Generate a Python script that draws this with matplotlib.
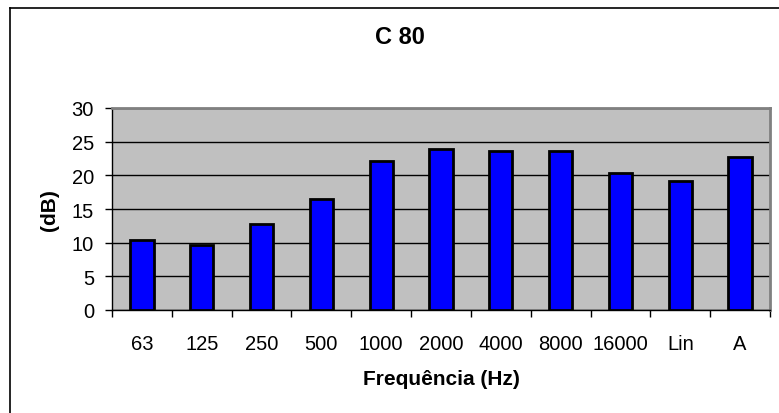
import numpy as np
import matplotlib
matplotlib.use("Agg")
import matplotlib.pyplot as plt
from matplotlib.lines import Line2D

plt.rcParams['font.family'] = ['Liberation Sans', 'DejaVu Sans']

categories = ['63', '125', '250', '500', '1000', '2000', '4000', '8000', '16000', 'Lin', 'A']
values = [10.4, 9.6, 12.7, 16.5, 22.2, 23.9, 23.6, 23.6, 20.4, 19.2, 22.7]

W, H = 779, 414
fig = plt.figure(figsize=(W / 100, H / 100), dpi=100)
ax = fig.add_axes([112 / W, 1 - 311 / H, (770 - 112) / W, (311 - 109) / H])

x = np.arange(len(categories))
ax.set_facecolor('#C0C0C0')
ax.set_axisbelow(True)
ax.grid(axis='y', color='black', linewidth=1.0)
ax.bar(x, values, width=0.39, color='#0000FF', edgecolor='black', linewidth=2.0, zorder=3)

ax.set_xlim(-0.5, len(categories) - 0.5)
ax.set_ylim(0, 30)
ax.set_yticks(np.arange(0, 31, 5))
ax.set_xticks(x)
ax.set_xticklabels(categories)
ax.set_xticks(np.arange(-0.5, len(categories), 1), minor=True)
ax.tick_params(axis='x', which='major', length=0, pad=17, labelsize=14.5)
ax.tick_params(axis='x', which='minor', length=5, width=1, direction='out')
ax.tick_params(axis='y', length=5, width=1, direction='out', pad=8, labelsize=14.5)

for s in ['left', 'bottom']:
    ax.spines[s].set_color('black')
    ax.spines[s].set_linewidth(1.0)
for s in ['top', 'right']:
    ax.spines[s].set_color('#808080')
    ax.spines[s].set_linewidth(2.0)

fig.text(400 / W, 1 - 38 / H, 'C 80', ha='center', va='center', fontsize=17, fontweight='bold')
fig.text(441 / W, 1 - 380 / H, 'Frequência (Hz)', ha='center', va='center', fontsize=15, fontweight='bold')
fig.text(50 / W, 1 - 210 / H, '(dB)', ha='center', va='center', rotation=90, fontsize=15, fontweight='bold')

# outer chart border (left and top only visible)
fig.add_artist(Line2D([10 / W, 10 / W], [0, 1 - 9 / H], transform=fig.transFigure, color='black', linewidth=1.2))
fig.add_artist(Line2D([10 / W, 1], [1 - 9 / H, 1 - 9 / H], transform=fig.transFigure, color='black', linewidth=1.2))

fig.savefig('out.png', dpi=100)
